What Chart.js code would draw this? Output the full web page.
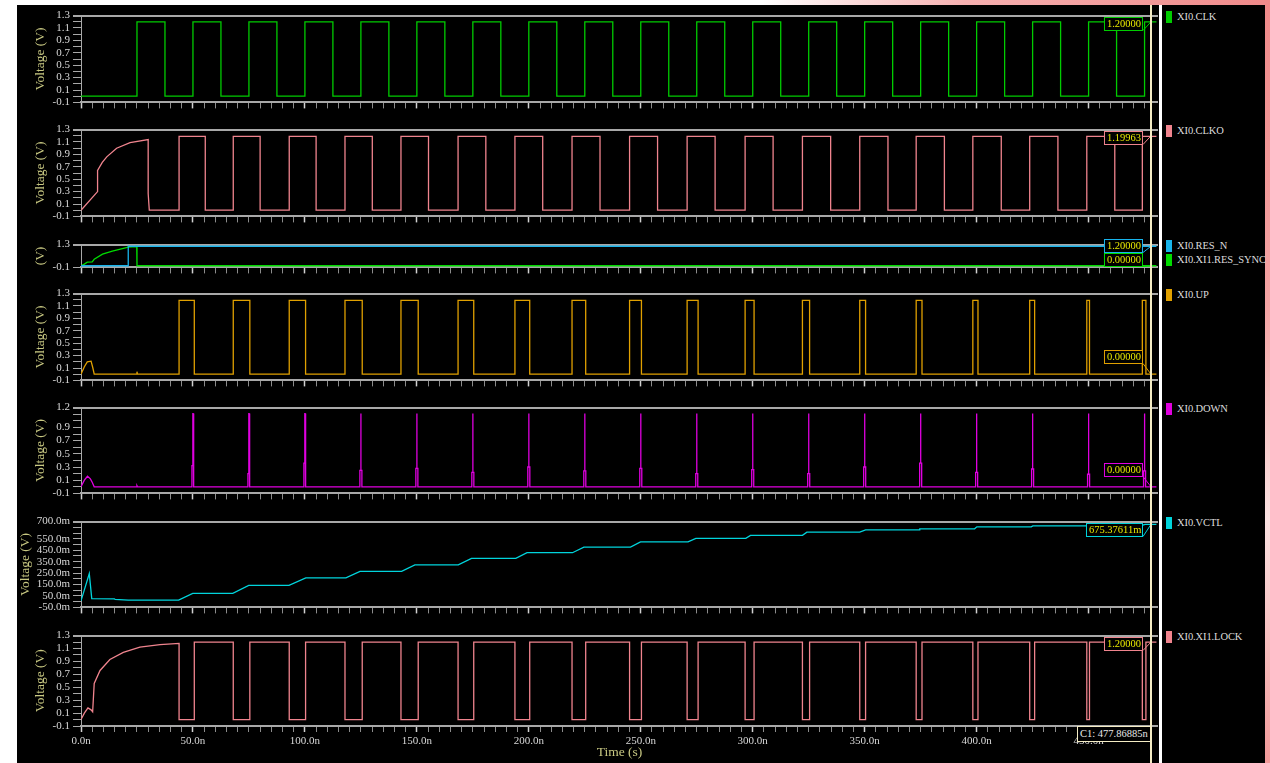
<!DOCTYPE html>
<html>
<head>
<meta charset="utf-8">
<script src="https://cdn.jsdelivr.net/npm/chart.js@4.4.1/dist/chart.umd.min.js"></script>
<style>
  html, body { margin: 0; padding: 0; }
  body { width: 1270px; height: 763px; position: relative; overflow: hidden; background: #fff;
         font-family: "Liberation Serif", "DejaVu Serif", serif; }
  #topbar { position: absolute; left: 0; top: 0; width: 1270px; height: 5px;
            background: linear-gradient(to right, #fff 0%, #fff 60%, #f6b0b0 76%, #f08a8a 100%); }
  #rightbar { position: absolute; left: 1265px; top: 0; width: 5px; height: 763px;
              background: linear-gradient(to bottom, #f08a8a 0%, #f4a4a4 40%, #fbe2e2 68%, #f29a9a 100%); }
  #screen { position: absolute; left: 17px; top: 5px; width: 1248px; height: 758px; background: #000; }
  canvas.panel { position: absolute; }
  .legend { position: absolute; left: 1166px; height: 12px; font-size: 10.5px; line-height: 12px; color: #dcdcdc;
            white-space: nowrap; letter-spacing: -0.1px; }
  .legend i { position: absolute; left: 0; top: 0; width: 6px; height: 12px; }
  .legend span { position: absolute; left: 11px; top: 0; }
  #cursor { position: absolute; top: 5px; width: 2px; height: 758px; background: #f4ecc4; }
  #sep { position: absolute; left: 1159px; top: 5px; width: 3px; height: 758px; background: #fff; }
  #c1 { position: absolute; height: 16px; box-sizing: border-box; border: 1px solid #f4ecc4; background: #000;
        color: #e8e8e8; font-size: 10.5px; line-height: 14px; padding: 0 2px; white-space: nowrap; }
</style>
</head>
<body>
<div id="topbar"></div>
<div id="rightbar"></div>
<div id="screen"></div>
<script>
// time axis in ns
const T_MAX = 481;
const T_END = 480.3;
const CURSOR_T = 477.86885;

// XI0.CLK edges
const clkRise = [25, 50, 75, 100, 125, 150, 175, 200, 225, 250, 275, 300, 325, 350, 375, 400, 425, 450, 475];
const clkFall = [37.5, 62.5, 87.5, 112.5, 137.5, 162.5, 187.5, 212.5, 237.5, 262.5, 287.5, 312.5, 337.5, 362.5, 387.5, 412.5, 437.5, 462.5];

// XI0.CLKO: start-up ramp, then edges
const clkoStart = [[0, 0], [7.4, 0.30], [7.4, 0.64], [9.5, 0.77], [11.5, 0.86], [15.9, 1.0], [21.9, 1.09], [30, 1.14], [30, 0.27], [30.5, 0]];
const clkoRise = [43.8, 68.0, 93.0, 117.9, 142.9, 168.4, 193.8, 219.3, 245.0, 270.7, 296.6, 322.2, 347.8, 373.0, 398.3, 423.7, 449.2, 474.0];
const clkoFall = [55.5, 80.0, 105.0, 130.1, 155.2, 180.8, 206.2, 231.8, 257.5, 283.2, 309.1, 334.8, 360.4, 385.6, 411.0, 436.3, 461.7];

// XI0.RES_N and XI0.XI1.RES_SYNC
const resN = [[0, 0], [21.1, 0], [21.1, 1.2], [T_END, 1.2]];
const resSync = [[0, 0], [1.5, 0.1], [2.8, 0.22], [5.0, 0.24], [5.9, 0.4], [9.6, 0.71], [14, 0.9], [18.5, 1.05], [21.1, 1.14], [24.9, 1.18], [25, 0], [T_END, 0]];

// XI0.UP: start-up bump, then pulses from CLKO rise to next CLK rise
const upStart = [[0, 0], [1.5, 0.12], [2.8, 0.2], [4.5, 0.21], [5.3, 0.1], [5.9, 0], [24.9, 0], [25, 0.04], [25.2, 0]];
const upFall = [50.6, 75.4, 100.3, 125.6, 150.6, 175.4, 200.4, 225.4, 250.3, 275.6, 300.6, 325.4, 350.4, 375.6, 400.6, 425.9, 450.4, 475.6];

// XI0.DOWN: start-up bump, then short spikes at each CLK rise
const downStart = [[0, 0], [1.5, 0.1], [2.9, 0.16], [4.2, 0.12], [5.0, 0.07], [5.9, 0], [24.8, 0], [25, 0.015], [25.2, 0]];
const downTimes = [50, 75, 100, 125, 150, 175, 200, 225, 250, 275, 300, 325, 350, 375, 400, 425, 450, 475];
const downShort = [0.32, 0.2, 0.36, 0.25, 0.28, 0.22, 0.3, 0.24, 0.28, 0.2, 0.26, 0.2, 0.3, 0.36, 0.22, 0.27, 0.19, 0.24];
const downPeak = 1.11;

// XI0.VCTL
const vctl = [
  [0, 0.007], [3.7, 0.245], [4.8, 0.027], [14.9, 0.025], [15.2, 0.021], [21.1, 0.013], [43.6, 0.013],
  [49.9, 0.073], [67.8, 0.073], [74.9, 0.142], [92.9, 0.142], [100.4, 0.208], [118.3, 0.208],
  [124.6, 0.265], [143.2, 0.265], [149.1, 0.322], [168.5, 0.322], [174.4, 0.379], [194.2, 0.379],
  [199.2, 0.428], [219.5, 0.428], [224.6, 0.477], [245.4, 0.477], [249.9, 0.522], [271.1, 0.522],
  [274.6, 0.554], [296.9, 0.554], [299.0, 0.580], [322.2, 0.580], [324.2, 0.608], [347.8, 0.608],
  [350.4, 0.628], [374.3, 0.628], [374.6, 0.637], [399.1, 0.637], [400.1, 0.654], [424.4, 0.654],
  [425.1, 0.663], [449.3, 0.663], [450.2, 0.669], [474.2, 0.669], [475.2, 0.6754], [T_END, 0.6754]
];

// XI0.XI1.LOCK: start-up curve, then low while UP is high
const lockStart = [[0, 0], [1.5, 0.1], [3.1, 0.18], [4.5, 0.15], [5.2, 0.12], [5.9, 0.56], [8.5, 0.76], [12.9, 0.93],
  [18.9, 1.04], [26.3, 1.12], [35.3, 1.16], [43.8, 1.18]];

// tick labels
const yLabelsStd = [1.3, 1.1, 0.9, 0.7, 0.5, 0.3, 0.1, -0.1];
const yLabelsRes = [1.3, -0.1];
const yLabelsDown = [1.2, 0.9, 0.7, 0.5, 0.3, 0.1, -0.1];
const yLabelsVctl = [0.7, 0.55, 0.45, 0.35, 0.25, 0.15, 0.05, -0.05];

// ---- helpers ----
function toPts(list) { return list.map(p => ({ x: p[0], y: p[1] })); }

function pulseTrain(start, rises, falls, lo, hi) {
  const pts = toPts(start);
  let level = pts[pts.length - 1].y;
  const edges = rises.map(t => [t, hi]).concat(falls.map(t => [t, lo])).sort((a, b) => a[0] - b[0]);
  edges.forEach(([t, v]) => {
    pts.push({ x: t, y: level }, { x: t, y: v });
    level = v;
  });
  pts.push({ x: T_END, y: level });
  return pts;
}

function spikeTrain(start, times, shortH, peak) {
  const pts = toPts(start);
  times.forEach((t, i) => {
    const s = shortH[i];
    pts.push({ x: t - 0.45, y: 0 }, { x: t - 0.45, y: s }, { x: t - 0.05, y: s }, { x: t - 0.05, y: peak },
             { x: t + 0.05, y: peak }, { x: t + 0.05, y: s }, { x: t + 0.45, y: s }, { x: t + 0.45, y: 0 });
  });
  pts.push({ x: T_END, y: 0 });
  return pts;
}

const AXIS = '#a8a8a8';
const TEXT = '#d8d8d8';
const TITLE = '#c8c882';
const BOX_TEXT = '#e8e800';
Chart.defaults.font.family = '"Liberation Serif", "DejaVu Serif", serif';

const CANVAS_LEFT = 17;
const PLOT_RIGHT = 1158;
const panelBox = [
  { top: 15, bottom: 103 }, { top: 129, bottom: 217 }, { top: 244, bottom: 268 }, { top: 293, bottom: 381 },
  { top: 407, bottom: 494 }, { top: 521, bottom: 608 }, { top: 635, bottom: 726 }
];

const fmtV = v => v.toFixed(1);
const fmtM = v => (v * 1000).toFixed(1) + 'm';

const panels = [
  { min: -0.1, max: 1.3, step: 0.1, labels: yLabelsStd, fmt: fmtV, title: 'Voltage (V)', titlePad: 15,
    series: [{ label: 'XI0.CLK', color: '#00cc00', data: pulseTrain([[0, 0]], clkRise, clkFall, 0, 1.2), text: '1.20000', value: 1.2 }] },
  { min: -0.1, max: 1.3, step: 0.1, labels: yLabelsStd, fmt: fmtV, title: 'Voltage (V)', titlePad: 15,
    series: [{ label: 'XI0.CLKO', color: '#f0848e', data: pulseTrain(clkoStart, clkoRise, clkoFall, 0, 1.19), text: '1.19963', value: 1.19963 }] },
  { min: -0.1, max: 1.3, step: 1.4, labels: yLabelsRes, fmt: fmtV, title: '(V)', titlePad: 15, stacked: true,
    series: [
      { label: 'XI0.RES_N', color: '#18b4ec', data: toPts(resN), text: '1.20000', value: 1.2 },
      { label: 'XI0.XI1.RES_SYNC', color: '#00dc00', data: toPts(resSync), text: '0.00000', value: 0 }
    ] },
  { min: -0.1, max: 1.3, step: 0.1, labels: yLabelsStd, fmt: fmtV, title: 'Voltage (V)', titlePad: 15,
    series: [{ label: 'XI0.UP', color: '#e0a000', data: pulseTrain(upStart, clkoRise, upFall, 0, 1.19), text: '0.00000', value: 0 }] },
  { min: -0.1, max: 1.2, step: 0.1, labels: yLabelsDown, fmt: fmtV, title: 'Voltage (V)', titlePad: 15,
    series: [{ label: 'XI0.DOWN', color: '#e000e0', data: spikeTrain(downStart, downTimes, downShort, downPeak), text: '0.00000', value: 0 }] },
  { min: -0.05, max: 0.7, step: 0.05, labels: yLabelsVctl, fmt: fmtM, title: 'Voltage (V)', titlePad: 0,
    series: [{ label: 'XI0.VCTL', color: '#00d4dc', data: toPts(vctl), text: '675.37611m', value: 0.67538 }] },
  { min: -0.1, max: 1.3, step: 0.1, labels: yLabelsStd, fmt: fmtV, title: 'Voltage (V)', titlePad: 15,
    series: [{ label: 'XI0.XI1.LOCK', color: '#f0848e', data: pulseTrain(lockStart, upFall, clkoRise, 0, 1.2), text: '1.20000', value: 1.2 }] }
];

// value boxes at the cursor
const cursorBoxes = {
  id: 'cursorBoxes',
  afterDatasetsDraw(chart, args, opts) {
    const { ctx, chartArea, scales: { x, y } } = chart;
    const cx = x.getPixelForValue(CURSOR_T);
    const h = 14;
    const right = cx - 8;
    ctx.save();
    ctx.font = '10.5px "Liberation Serif", "DejaVu Serif", serif';
    chart.data.datasets.forEach((ds, i) => {
      const py = y.getPixelForValue(ds.cursorValue);
      const w = Math.round(ctx.measureText(ds.cursorText).width) + 5;
      let top;
      if (opts.stacked) {
        top = y.getPixelForValue(chart.data.datasets[0].cursorValue) - 7 + i * h;
      } else {
        top = py - 6;
        if (top < chartArea.top + 1.5) top = chartArea.top + 1.5;
        if (top + h > chartArea.bottom - 16) top = chartArea.bottom - 16 - h;
      }
      top = Math.round(top);
      ctx.fillStyle = '#000';
      ctx.fillRect(right - w, top, w, h);
      ctx.strokeStyle = ds.borderColor;
      ctx.lineWidth = 1;
      ctx.strokeRect(right - w + 0.5, top + 0.5, w - 1, h - 1);
      ctx.fillStyle = BOX_TEXT;
      ctx.textBaseline = 'middle';
      ctx.textAlign = 'left';
      ctx.fillText(ds.cursorText, right - w + 3, top + h / 2 + 0.5);
      ctx.beginPath();
      ctx.moveTo(right, top + h - 0.5);
      ctx.lineTo(cx, py);
      ctx.stroke();
    });
    ctx.restore();
  }
};

const charts = [];
panels.forEach((p, i) => {
  const box = panelBox[i];
  const last = i === panels.length - 1;
  const padTop = 9;
  const xH = last ? 37 : 9;
  const canvas = document.createElement('canvas');
  canvas.className = 'panel';
  canvas.width = PLOT_RIGHT - CANVAS_LEFT;
  canvas.height = padTop + (box.bottom - box.top) + xH;
  canvas.style.left = CANVAS_LEFT + 'px';
  canvas.style.top = (box.top - padTop) + 'px';
  document.body.appendChild(canvas);

  const chart = new Chart(canvas.getContext('2d'), {
    type: 'line',
    data: {
      datasets: p.series.map(s => ({
        label: s.label,
        data: s.data,
        borderColor: s.color,
        borderWidth: 1.3,
        pointRadius: 0,
        tension: 0,
        fill: false,
        cursorText: s.text,
        cursorValue: s.value
      }))
    },
    options: {
      responsive: false,
      animation: false,
      devicePixelRatio: 1,
      events: [],
      layout: { padding: { top: padTop, left: 0, right: 0, bottom: 0 } },
      plugins: {
        legend: { display: false },
        tooltip: { enabled: false },
        cursorBoxes: { stacked: !!p.stacked }
      },
      scales: {
        x: {
          type: 'linear',
          min: 0,
          max: T_MAX,
          afterFit: s => { s.height = xH; },
          afterBuildTicks: s => { s.ticks = s.ticks.filter(t => Math.abs(t.value / 5 - Math.round(t.value / 5)) < 1e-6); },
          ticks: {
            stepSize: 5,
            autoSkip: false,
            maxRotation: 0,
            padding: 3,
            color: TEXT,
            font: { size: 11 },
            callback: v => (last && Math.abs(v % 50) < 1e-6) ? v.toFixed(1) + 'n' : ''
          },
          grid: {
            drawOnChartArea: false,
            drawTicks: true,
            tickLength: 6,
            tickColor: ctx => (ctx.tick && Math.abs(ctx.tick.value % 50) < 1e-6) ? '#d0d0d0' : '#8c8c8c',
            tickWidth: ctx => (ctx.tick && Math.abs(ctx.tick.value % 50) < 1e-6) ? 1.5 : 1
          },
          border: { display: true, color: AXIS, width: 2 },
          title: {
            display: last,
            text: 'Time (s)',
            color: TITLE,
            font: { size: 13.5 },
            padding: { top: 0, bottom: 2 }
          }
        },
        y: {
          min: p.min,
          max: p.max,
          afterFit: s => { s.width = 81 - CANVAS_LEFT; },
          ticks: {
            stepSize: p.step,
            autoSkip: false,
            padding: 3,
            color: TEXT,
            font: { size: 11 },
            callback: v => p.labels.some(l => Math.abs(l - v) < 1e-6) ? p.fmt(v) : ''
          },
          grid: {
            drawOnChartArea: true,
            drawTicks: true,
            tickLength: 8,
            color: ctx => (ctx.tick && Math.abs(ctx.tick.value - p.max) < 1e-6) ? AXIS : 'rgba(0,0,0,0)',
            lineWidth: ctx => (ctx.tick && Math.abs(ctx.tick.value - p.max) < 1e-6) ? 2 : 1,
            tickColor: AXIS
          },
          border: { display: true, color: AXIS, width: 1 },
          title: {
            display: true,
            text: p.title,
            color: TITLE,
            font: { size: 13.5 },
            padding: { top: p.titlePad, bottom: 0 }
          }
        }
      }
    },
    plugins: [cursorBoxes]
  });
  charts.push(chart);

  // legend entries at the right
  const areaTop = box.top - padTop + chart.chartArea.top;
  p.series.forEach((s, j) => {
    const item = document.createElement('div');
    item.className = 'legend';
    item.style.top = Math.round(areaTop - 4.5 + j * 13.5) + 'px';
    item.innerHTML = '<i style="background:' + s.color + '"></i><span>' + s.label + '</span>';
    document.body.appendChild(item);
  });
});

// cursor line, separator and cursor label
const lastChart = charts[charts.length - 1];
const cx = CANVAS_LEFT + lastChart.scales.x.getPixelForValue(CURSOR_T);
const cursor = document.createElement('div');
cursor.id = 'cursor';
cursor.style.left = Math.round(cx - 1) + 'px';
document.body.appendChild(cursor);

const sep = document.createElement('div');
sep.id = 'sep';
document.body.appendChild(sep);

const c1 = document.createElement('div');
c1.id = 'c1';
c1.textContent = 'C1: ' + CURSOR_T.toFixed(5) + 'n';
document.body.appendChild(c1);
const lastTop = panelBox[panelBox.length - 1].top - 9 + lastChart.chartArea.bottom;
c1.style.top = Math.round(lastTop) + 'px';
c1.style.left = Math.round(cx - c1.offsetWidth) + 'px';
</script>
</body>
</html>
